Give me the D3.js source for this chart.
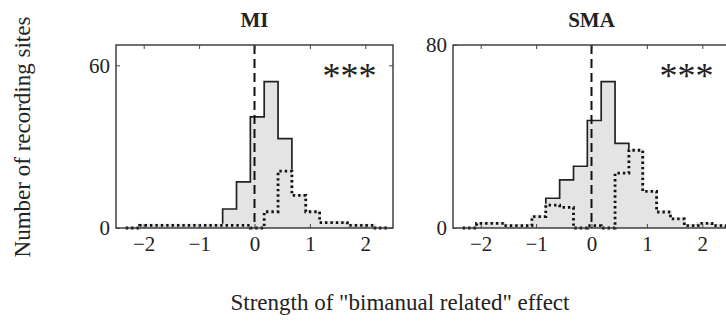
<!DOCTYPE html>
<html>
<head>
<meta charset="utf-8">
<script src="https://cdn.jsdelivr.net/npm/d3@7"></script>
<style>
  html, body { margin: 0; padding: 0; background: #fff; }
  svg { display: block; }
  text { font-family: "Liberation Serif", "Times New Roman", serif; fill: #222; }
</style>
</head>
<body>
<script>
// ---------- data ----------
const binLeftEdges = [-2.325, -2.075, -1.825, -1.575, -1.325, -1.075, -0.825, -0.575, -0.325, -0.075,
                      0.175, 0.425, 0.675, 0.925, 1.175, 1.425, 1.675, 1.925, 2.175];
const binWidth = 0.25;
const panelTitles = ["MI", "SMA"];
const miAll     = [0, 1, 1, 1, 1, 1, 1, 7, 17, 41, 54, 33, 12, 6, 2, 2, 1, 1, 0];
const miDotted  = [0, 1, 1, 1, 1, 1, 1, 1, 1, 0, 6, 21, 12, 6, 2, 2, 1, 1, 0];
const smaAll    = [0, 2, 2, 1, 1, 5, 13, 21, 27, 47, 64, 37, 34, 16, 7, 4, 1, 2, 1];
const smaDotted = [0, 2, 2, 1, 1, 5, 10, 9, 0, 1, 0, 24, 34, 16, 7, 4, 1, 2, 1];
const xTicks = [-2, -1, 0, 1, 2];
const yMaxes = [67.5, 80];
const yTicksList = [[0, 60], [0, 80]];
const signif = ["***", "***"];
const yLabel = "Number of recording sites";
const xLabel = 'Strength of "bimanual related" effect';

// ---------- layout ----------
const W = 726, H = 331;
const svg = d3.select("body").append("svg").attr("width", W).attr("height", H);

const panels = [
  { left: 116, right: 393, top: 45, bottom: 228, all: miAll, dotted: miDotted },
  { left: 453, right: 730, top: 45, bottom: 228, all: smaAll, dotted: smaDotted }
];
const fillColor = "#e4e4e4";
const fmt = d3.format("d");

function stepPoints(values) {
  const pts = [[binLeftEdges[0], 0]];
  values.forEach((v, i) => {
    pts.push([binLeftEdges[i], v]);
    pts.push([binLeftEdges[i] + binWidth, v]);
  });
  pts.push([binLeftEdges[binLeftEdges.length - 1] + binWidth, 0]);
  return pts;
}

panels.forEach((p, pi) => {
  const x = d3.scaleLinear().domain([-2.5, 2.5]).range([p.left, p.right]);
  const y = d3.scaleLinear().domain([0, yMaxes[pi]]).range([p.bottom, p.top]);
  const g = svg.append("g");

  const line = d3.line().x(d => x(d[0])).y(d => y(d[1]));
  const allPts = stepPoints(p.all);
  const dotPts = stepPoints(p.dotted);

  // grey fill
  g.append("path").attr("d", line(allPts) + "Z").attr("fill", fillColor).attr("stroke", "none");
  // solid outline
  g.append("path").attr("d", line(allPts)).attr("fill", "none")
    .attr("stroke", "#222").attr("stroke-width", 1.7);
  // dotted outline (underlay hides coinciding solid line)
  g.append("path").attr("d", line(dotPts)).attr("fill", "none")
    .attr("stroke", fillColor).attr("stroke-width", 3);
  g.append("path").attr("d", line(dotPts)).attr("fill", "none")
    .attr("stroke", "#111").attr("stroke-width", 2.8).attr("stroke-dasharray", "2.4,3");

  // dashed zero line
  g.append("line").attr("x1", x(0)).attr("x2", x(0)).attr("y1", y.range()[1]).attr("y2", y(0))
    .attr("stroke", "#111").attr("stroke-width", 2).attr("stroke-dasharray", "9,5");

  // frame
  g.append("rect").attr("x", p.left).attr("y", p.top)
    .attr("width", p.right - p.left).attr("height", p.bottom - p.top)
    .attr("fill", "none").attr("stroke", "#333").attr("stroke-width", 1.4);

  // axes with inward ticks
  const ax = (sel) => { sel.select(".domain").remove(); sel.selectAll("line").attr("stroke", "#444"); };
  g.append("g").attr("transform", `translate(0,${p.bottom})`)
    .call(d3.axisBottom(x).tickValues(xTicks).tickSize(-4).tickPadding(8).tickFormat(fmt))
    .call(ax)
    .selectAll("text").style("font-size", "21px").style("font-family", "Liberation Serif").attr("fill", "#222");
  g.append("g").attr("transform", `translate(0,${p.top})`)
    .call(d3.axisTop(x).tickValues(xTicks).tickSize(-4).tickFormat(""))
    .call(ax);
  g.append("g").attr("transform", `translate(${p.left},0)`)
    .call(d3.axisLeft(y).tickValues(yTicksList[pi]).tickSize(-4).tickPadding(6).tickFormat(fmt))
    .call(ax)
    .selectAll("text").style("font-size", "21px").style("font-family", "Liberation Serif").attr("fill", "#222");
  g.append("g").attr("transform", `translate(${p.right},0)`)
    .call(d3.axisRight(y).tickValues(yTicksList[pi]).tickSize(-4).tickFormat(""))
    .call(ax);

  // title
  svg.append("text").attr("x", p.left + 138.5).attr("y", 27)
    .attr("text-anchor", "middle").style("font-size", "21px").style("font-weight", "bold")
    .text(panelTitles[pi]);

  // significance stars
  svg.append("text").attr("x", x(2.2)).attr("y", 88)
    .attr("text-anchor", "end").style("font-size", "36px").attr("fill", "#555")
    .text(signif[pi]);
});

// axis labels
svg.append("text").attr("transform", "translate(30,137) rotate(-90)")
  .attr("text-anchor", "middle").style("font-size", "23px").text(yLabel);
svg.append("text").attr("x", 400).attr("y", 310)
  .attr("text-anchor", "middle").style("font-size", "23px").text(xLabel);
</script>
</body>
</html>
